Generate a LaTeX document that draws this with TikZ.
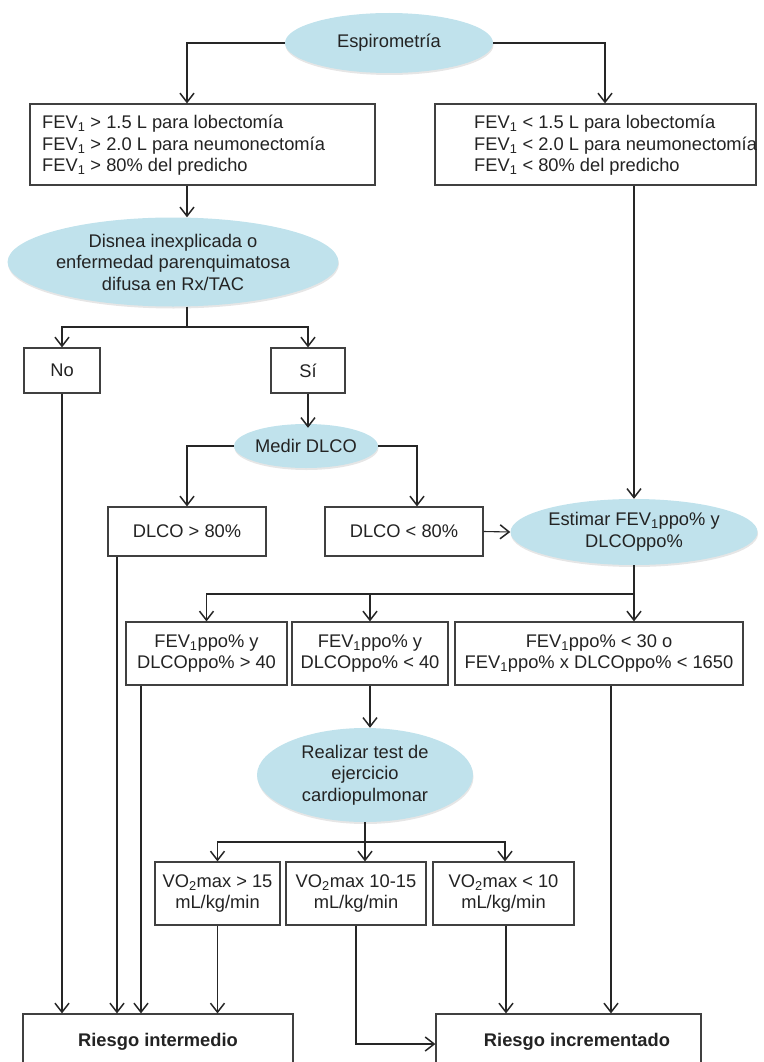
\documentclass[tikz,border=0pt]{standalone}
\usepackage{fontspec}
\setmainfont{Liberation Sans}
\usetikzlibrary{arrows.meta,shapes.geometric,shadows}
\definecolor{bubble}{RGB}{192,226,236}
\definecolor{ink}{RGB}{35,35,35}
\begin{document}
\begin{tikzpicture}[x=1pt,y=-1pt,
  every node/.style={font=\fontsize{18.3}{21.5}\selectfont, text=ink},
  line/.style={line width=1.1pt, draw=black!85},
  arr/.style={line, -{Straight Barb[length=9pt,width=14pt,line width=1.5pt]}},
  box/.style={draw=black!75, line width=1.2pt, fill=white, rectangle, inner sep=0pt, align=center,
    drop shadow={opacity=0.18, shadow xshift=1pt, shadow yshift=-1.2pt}},
  bubblenode/.style={ellipse, fill=bubble, draw=none, inner sep=0pt, align=center,
    drop shadow={opacity=0.2, shadow xshift=0.5pt, shadow yshift=-2pt}},
  outcome/.style={box, font=\fontsize{18.3}{21.5}\selectfont\bfseries}]
\useasboundingbox (0,0) rectangle (763,1062);

% first level
\node[bubblenode, minimum width=208, minimum height=60] (esp) at (389,43) {Espirometría};
\node[box, minimum width=345, minimum height=81] (fevA) at (202.5,144.5) {};
\node[anchor=west, align=left, inner sep=0pt] (fevAtext) at (42,145.5)
  {FEV\textsubscript{1} > 1.5 L para lobectomía\\
   FEV\textsubscript{1} > 2.0 L para neumonectomía\\
   FEV\textsubscript{1} > 80\% del predicho};
\node[box, minimum width=321, minimum height=81] (fevB) at (595.5,144.5) {};
\node[anchor=west, align=left, inner sep=0pt] (fevBtext) at (474,145.5)
  {FEV\textsubscript{1} < 1.5 L para lobectomía\\
   FEV\textsubscript{1} < 2.0 L para neumonectomía\\
   FEV\textsubscript{1} < 80\% del predicho};

% dyspnoea question
\node[bubblenode, minimum width=311, minimum height=89] (dis) at (173,262)
  {Disnea inexplicada o\\enfermedad parenquimatosa\\difusa en Rx/TAC};
\node[box, minimum width=76, minimum height=45] (no) at (62,370.5) {No};
\node[box, minimum width=74, minimum height=45] (si) at (308,370.5) {Sí};

% DLCO
\node[bubblenode, minimum width=141, minimum height=44] (med) at (306,446) {Medir DLCO};
\node[box, minimum width=158, minimum height=49] (dA) at (187,531.5) {DLCO > 80\%};
\node[box, minimum width=158, minimum height=49] (dB) at (404,531.5) {DLCO < 80\%};
\node[bubblenode, minimum width=247, minimum height=66] (est) at (634,532)
  {Estimar FEV\textsubscript{1}ppo\% y\\DLCOppo\%};

% predicted postoperative values
\node[box, minimum width=161, minimum height=63] (b1) at (206.5,653.5)
  {FEV\textsubscript{1}ppo\% y\\DLCOppo\% > 40};
\node[box, minimum width=156, minimum height=63] (b2) at (370,653.5)
  {FEV\textsubscript{1}ppo\% y\\DLCOppo\% < 40};
\node[box, minimum width=288, minimum height=63] (b3) at (599,653.5)
  {FEV\textsubscript{1}ppo\% < 30 o\\FEV\textsubscript{1}ppo\% x DLCOppo\% < 1650};

% exercise test
\node[bubblenode, minimum width=216, minimum height=94] (rea) at (365,775)
  {Realizar test de\\ejercicio\\cardiopulmonar};
\node[box, minimum width=125, minimum height=63] (v1) at (217.5,893.5)
  {VO\textsubscript{2}max > 15\\mL/kg/min};
\node[box, minimum width=140, minimum height=63] (v2) at (356,893.5)
  {VO\textsubscript{2}max 10-15\\mL/kg/min};
\node[box, minimum width=141, minimum height=63] (v3) at (503.5,893.5)
  {VO\textsubscript{2}max < 10\\mL/kg/min};

% outcomes
\node[outcome, minimum width=270, minimum height=56] (ri) at (158,1042) {Riesgo intermedio};
\node[outcome, minimum width=265, minimum height=56] (rinc) at (568.5,1042) {\hspace*{17pt}Riesgo incrementado};

% branching points
\coordinate (s1) at (187,327);
\coordinate (s2) at (634,594);
\coordinate (s3) at (365,842);

% connectors
\draw[arr] (esp.west) -| ([xshift=-15.5pt]fevA.north);
\draw[arr] (esp.east) -| ([xshift=9.5pt]fevB.north);
\draw[arr] ([xshift=-15.5pt]fevA.south) -- ([xshift=14pt]dis.north);
\draw[line] ([xshift=14pt]dis.south) -- (s1);
\draw[arr] (s1) -| (no.north);
\draw[arr] (s1) -| (si.north);
\draw[arr] (no.south) -- (no.south |- ri.north);
\draw[arr] (si.south) -- ([yshift=-4pt]si.south |- med.north);
\draw[arr] (med.west) -| (dA.north);
\draw[arr] (med.east) -| ([xshift=13pt]dB.north);
\draw[arr] (dB.east) -- (est.west);
\draw[arr] (fevB.south -| est.north) -- (est.north);
\draw[line] (est.south) -- (s2);
\draw[arr] (s2) -| (b1.north);
\draw[arr] (s2) -| (b2.north);
\draw[arr] (s2) -- (s2 |- b3.north);
\draw[arr] ([xshift=-70pt]dA.south) -- ([xshift=-70pt]dA.south |- ri.north);
\draw[arr] ([xshift=-65.5pt]b1.south) -- ([xshift=-65.5pt]b1.south |- ri.north);
\draw[arr] (b2.south) -- (b2.south |- rea.north);
\draw[arr] ([xshift=12pt]b3.south) -- ([xshift=12pt]b3.south |- rinc.north);
\draw[line] (rea.south) -- (s3);
\draw[arr] (s3) -| (v1.north);
\draw[arr] (s3) -- (s3 |- v2.north);
\draw[arr] (s3) -| ([xshift=1.5pt]v3.north);
\draw[arr] (v1.south) -- (v1.south |- ri.north);
\draw[arr] (v2.south) |- ([yshift=-2pt]rinc.west);
\draw[arr] ([xshift=2.5pt]v3.south) -- ([xshift=2.5pt]v3.south |- rinc.north);
\end{tikzpicture}
\end{document}
